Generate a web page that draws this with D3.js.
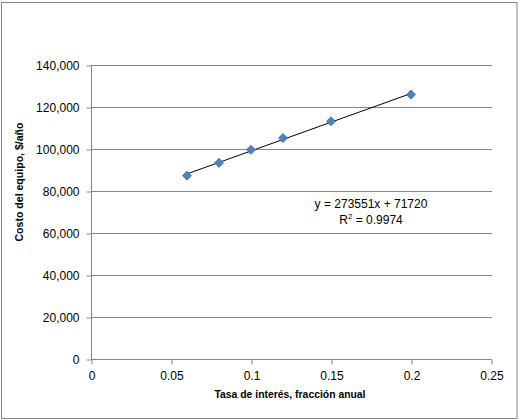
<!DOCTYPE html>
<html>
<head>
<meta charset="utf-8">
<script src="https://cdn.jsdelivr.net/npm/d3@7"></script>
<style>
  body { margin: 0; background: #fff; }
  text { font-family: "Liberation Sans", Arial, sans-serif; }
</style>
</head>
<body>
<svg id="chart"></svg>
<script>
// interest rate (fraction/yr) vs equipment cost ($/yr)
const rates = [0.06, 0.08, 0.10, 0.12, 0.15, 0.20];
const costs = [87300, 93400, 99600, 105200, 113200, 125900];
const xTicks = [0, 0.05, 0.1, 0.15, 0.2, 0.25];
const yTicks = [0, 20000, 40000, 60000, 80000, 100000, 120000, 140000];
const slope = 273551, intercept = 71720;

const W = 519, H = 420;
const margin = { top: 65, right: 28, bottom: 61, left: 91 };

const svg = d3.select("#chart").attr("width", W).attr("height", H);

// outer chart border
svg.append("rect")
  .attr("x", 1.5).attr("y", 2.5)
  .attr("width", 515.5).attr("height", 416)
  .attr("fill", "#fff").attr("stroke", "#868686");

const x = d3.scaleLinear().domain([0, 0.25]).range([margin.left, W - margin.right]);
const y = d3.scaleLinear().domain([0, 140000]).range([H - margin.bottom, margin.top]);

// gridlines
svg.append("g")
  .selectAll("line")
  .data(yTicks.filter(d => d > 0))
  .enter().append("line")
  .attr("x1", x(0)).attr("x2", x(0.25) + 1)
  .attr("y1", d => Math.round(y(d)) + 0.5).attr("y2", d => Math.round(y(d)) + 0.5)
  .attr("stroke", "#868686");

// y axis
const yAxis = svg.append("g")
  .attr("transform", `translate(${Math.round(x(0)) + 0.5},0.5)`)
  .call(d3.axisLeft(y).tickValues(yTicks).tickSize(5).tickPadding(7)
    .tickFormat(d3.format(",")));
yAxis.select(".domain").attr("stroke", "#868686").attr("d", `M0,${y(0)}V${y(140000)}`);
yAxis.selectAll(".tick line").attr("stroke", "#868686");
yAxis.selectAll("text").attr("font-size", 12).attr("fill", "#000")
  .attr("font-family", "Liberation Sans, Arial, sans-serif");

// x axis
const xAxis = svg.append("g")
  .attr("transform", `translate(0.5,${Math.round(y(0)) + 0.5})`)
  .call(d3.axisBottom(x).tickValues(xTicks).tickSize(5).tickPadding(7)
    .tickFormat(d => d === 0 ? "0" : String(d)));
xAxis.select(".domain").attr("stroke", "#868686").attr("d", `M${x(0)},0H${x(0.25)}`);
xAxis.selectAll(".tick line").attr("stroke", "#868686");
xAxis.selectAll("text").attr("font-size", 12).attr("fill", "#000")
  .attr("font-family", "Liberation Sans, Arial, sans-serif");

// trendline
const x0 = d3.min(rates), x1 = d3.max(rates);
svg.append("line")
  .attr("x1", x(x0)).attr("y1", y(slope * x0 + intercept))
  .attr("x2", x(x1)).attr("y2", y(slope * x1 + intercept))
  .attr("stroke", "#000").attr("stroke-width", 1);

// diamond markers
const diamond = d3.symbol().type(d3.symbolDiamond2).size(52);
svg.append("g")
  .selectAll("path")
  .data(rates.map((r, i) => [r, costs[i]]))
  .enter().append("path")
  .attr("d", diamond)
  .attr("transform", d => `translate(${x(d[0])},${y(d[1])})`)
  .attr("fill", "#4F81BD").attr("stroke", "#3D6A9E").attr("stroke-width", 0.8);

// equation text
svg.append("text")
  .attr("x", 371).attr("y", 208).attr("text-anchor", "middle")
  .attr("font-size", 12).text(`y = ${slope}x + ${intercept}`);
const r2 = svg.append("text")
  .attr("x", 371).attr("y", 224).attr("text-anchor", "middle")
  .attr("font-size", 12);
r2.append("tspan").text("R");
r2.append("tspan").attr("font-size", 8).attr("dy", -5).text("2");
r2.append("tspan").attr("dy", 5).text(" = 0.9974");

// axis titles
svg.append("text")
  .attr("x", 290).attr("y", 398).attr("text-anchor", "middle")
  .attr("font-size", 11).attr("font-weight", "bold")
  .attr("textLength", 151).attr("lengthAdjust", "spacingAndGlyphs")
  .text("Tasa de interés, fracción anual");
svg.append("text")
  .attr("transform", "translate(23,182) rotate(-90)")
  .attr("text-anchor", "middle")
  .attr("font-size", 11).attr("font-weight", "bold")
  .attr("textLength", 119).attr("lengthAdjust", "spacingAndGlyphs")
  .text("Costo del equipo, $/año");
</script>
</body>
</html>
